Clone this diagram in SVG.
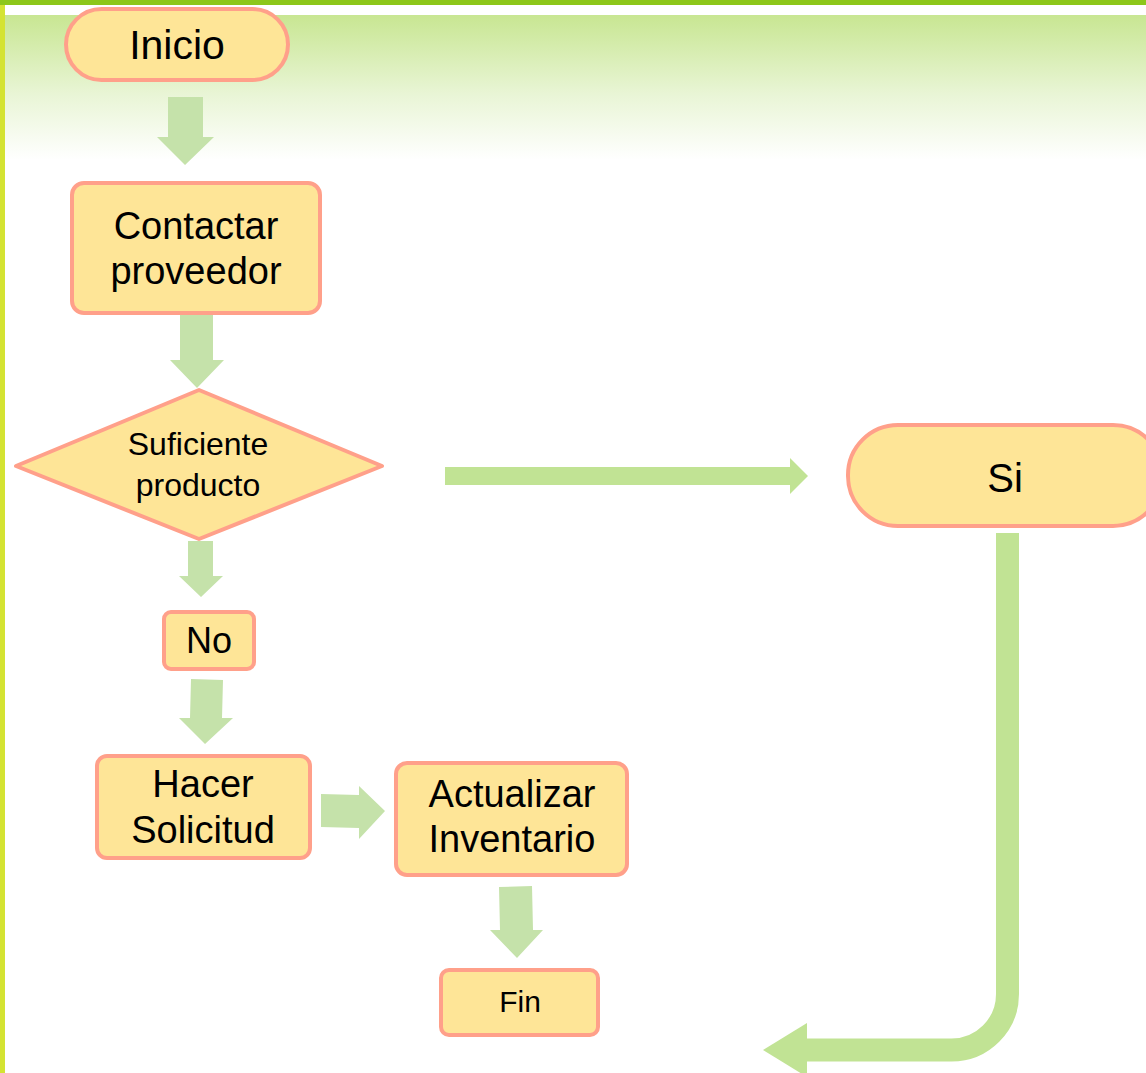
<svg xmlns="http://www.w3.org/2000/svg" width="1146" height="1073" viewBox="0 0 1146 1073">
<defs>
<linearGradient id="band" x1="0" y1="0" x2="0" y2="1">
<stop offset="0" stop-color="#c8e692"/>
<stop offset="0.55" stop-color="#e9f5d6"/>
<stop offset="1" stop-color="#ffffff"/>
</linearGradient>
<style>
.node{fill:#fee597;stroke:#ffa08a;stroke-width:4}
.t{font-family:"Liberation Sans",Arial,sans-serif;fill:#000;text-anchor:middle}
.arr{fill:#c5e2aa}
.arr2{fill:#c1e394}
</style>
</defs>
<rect x="0" y="0" width="1146" height="1073" fill="#ffffff"/>
<rect x="5" y="15" width="1141" height="145" fill="url(#band)"/>
<rect x="0" y="0" width="1146" height="5" fill="#8dc71a"/>
<rect x="0" y="5" width="5" height="1068" fill="#d4e332"/>

<g id="connectors">
<polygon class="arr" points="168,97 203,97 203,137 214,137 185,165 157,137 168,137"/>
<polygon class="arr" points="180,315 213,315 213,360 224,360 197,388 170,360 180,360"/>
<polygon class="arr" points="188,541 213,541 213,576 223,576 201,597 179,576 188,576"/>
<polygon class="arr" points="191,679 223,680 222,718 233,718 205,744 179,718 190,718"/>
<polygon class="arr" points="321,794 359,795 359,786 385,811 359,839 359,828 321,827"/>
<polygon class="arr" points="499,887 532,886 533,930 543,930 517,958 490,930 500,930"/>
<polygon class="arr2" points="445,467 790,467 790,458 808,476 790,494 790,485 445,485"/>
<path d="M1007.5 533 V994 A56 56 0 0 1 951.5 1050 H806" fill="none" stroke="#c1e394" stroke-width="23"/>
<polygon class="arr2" points="807,1023 763,1050 807,1077"/>
</g>

<g id="inicio">
<rect class="node" x="66" y="9" width="222" height="71" rx="35.5"/>
<text class="t" x="177" y="59" font-size="41">Inicio</text>
</g>
<g id="contactar">
<rect class="node" x="72" y="183" width="248" height="130" rx="12"/>
<text class="t" x="196" y="239" font-size="38">Contactar</text>
<text class="t" x="196" y="284" font-size="38">proveedor</text>
</g>
<g id="decision">
<polygon class="node" points="16,466 199,390 382,466 199,539" stroke-linejoin="round"/>
<text class="t" x="198" y="455" font-size="32">Suficiente</text>
<text class="t" x="198" y="496" font-size="32">producto</text>
</g>
<g id="si">
<rect class="node" x="848" y="425" width="315" height="101" rx="50"/>
<text class="t" x="1005" y="492" font-size="40">Si</text>
</g>
<g id="no">
<rect class="node" x="164" y="612" width="90" height="57" rx="7"/>
<text class="t" x="209" y="653" font-size="36">No</text>
</g>
<g id="hacer">
<rect class="node" x="97" y="756" width="213" height="102" rx="10"/>
<text class="t" x="203" y="797" font-size="38">Hacer</text>
<text class="t" x="203" y="843" font-size="38">Solicitud</text>
</g>
<g id="actualizar">
<rect class="node" x="396" y="763" width="231" height="112" rx="11"/>
<text class="t" x="512" y="807" font-size="38">Actualizar</text>
<text class="t" x="512" y="852" font-size="38">Inventario</text>
</g>
<g id="fin">
<rect class="node" x="441" y="970" width="157" height="65" rx="8"/>
<text class="t" x="520" y="1012" font-size="30">Fin</text>
</g>
</svg>
